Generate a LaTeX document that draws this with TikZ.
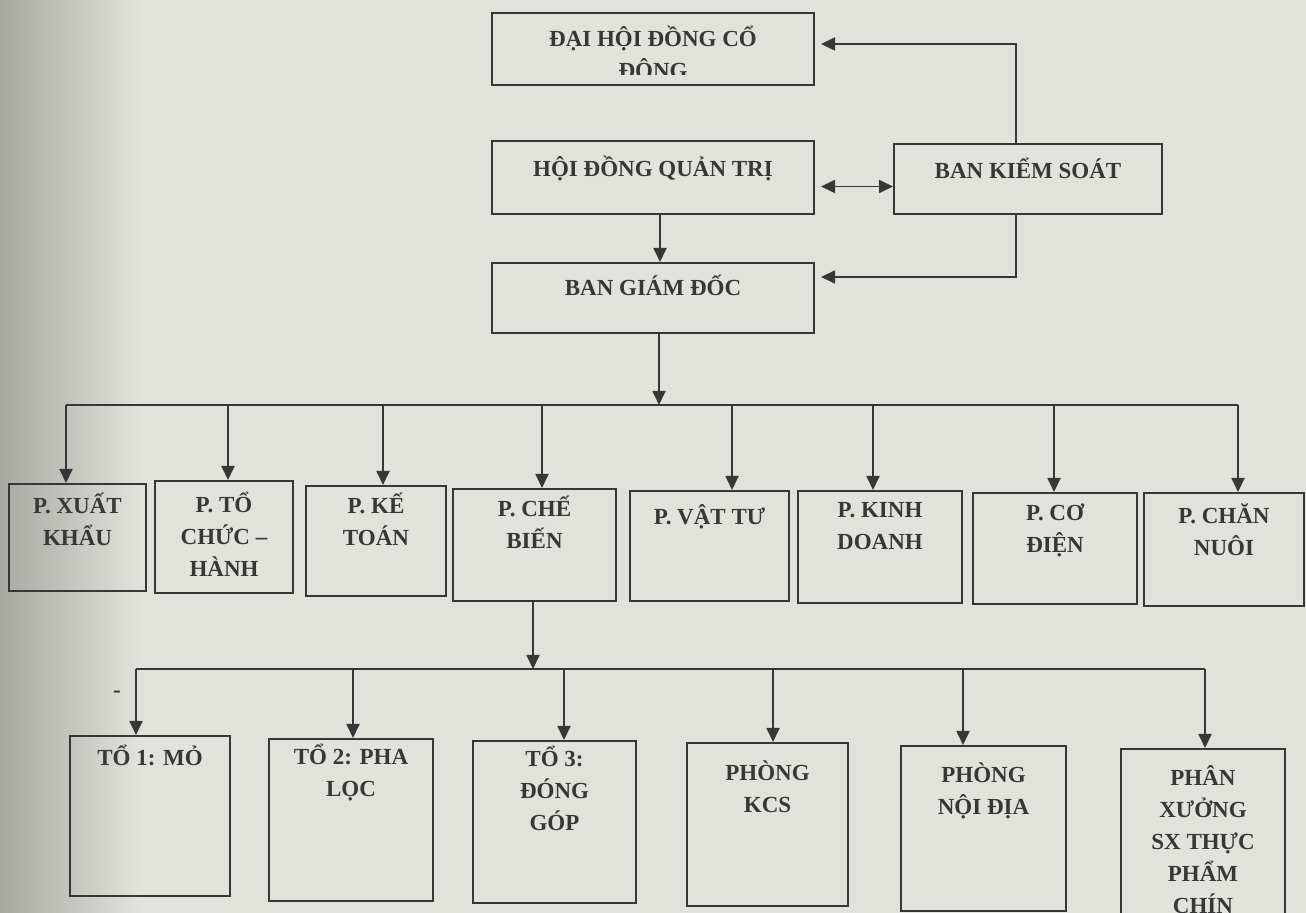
\documentclass[tikz,border=0pt]{standalone}
\usepackage{fontspec}
\setmainfont{Liberation Serif}
\usetikzlibrary{arrows.meta}

\definecolor{giay}{RGB}{226,226,221}
\definecolor{giaytoi}{RGB}{168,168,163}
\definecolor{muc}{RGB}{55,55,55}

\tikzstyle{khung} = [draw=muc, line width=1pt, anchor=north west, inner sep=0pt]
\tikzstyle{chu} = [anchor=north, yshift=11.2pt, align=center, text=muc, inner sep=0pt, font=\bfseries\fontsize{11.5}{16}\selectfont, execute at begin node=\strut]
\tikzstyle{day} = [draw=muc, line width=0.9pt]
\tikzstyle{noi} = [draw=muc, line width=0.9pt, -{Triangle[length=7pt,width=6.5pt]}]
\tikzstyle{hai} = [draw=muc, line width=0.9pt, {Triangle[length=7pt,width=6.5pt]}-{Triangle[length=7pt,width=6.5pt]}]

\begin{document}
\begin{tikzpicture}[x=0.5pt,y=-0.5pt]

    % Nen giay
    \useasboundingbox (0,0) rectangle (1306,913);
    \clip (0,0) rectangle (1306,913);
    \fill[giay] (0,0) rectangle (1306,913);
    \shade[left color=giaytoi, right color=giay] (0,0) rectangle (140,913);

    % Cap lanh dao
    \node[khung, minimum width=161pt, minimum height=36pt] (dh) at (491,12) {};
    \node[khung, minimum width=161pt, minimum height=36.5pt] (hd) at (491,140) {};
    \node[khung, minimum width=134pt, minimum height=35pt] (bk) at (893,143) {};
    \node[khung, minimum width=161pt, minimum height=35pt] (gd) at (491,262) {};

    \begin{scope}
        \clip ([yshift=5.5pt]dh.south west) rectangle (dh.north east);
        \node[chu] (dh-t) at ([yshift=-18pt]dh.north) {ĐẠI HỘI ĐỒNG CỔ\\ĐÔNG};
    \end{scope}
    \node[chu] (hd-t) at ([yshift=-18pt]hd.north) {HỘI ĐỒNG QUẢN TRỊ};
    \node[chu] (bk-t) at ([yshift=-17.5pt]bk.north) {BAN KIỂM SOÁT};
    \node[chu] (gd-t) at ([yshift=-16.5pt]gd.north) {BAN GIÁM ĐỐC};

    % Cac phong
    \node[khung, minimum width=68.5pt, minimum height=53.5pt] (xk) at (8,483) {};
    \node[khung, minimum width=69pt, minimum height=56pt] (tc) at (154,480) {};
    \node[khung, minimum width=70pt, minimum height=55pt] (kt) at (305,485) {};
    \node[khung, minimum width=81.5pt, minimum height=56pt] (cb) at (452,488) {};
    \node[khung, minimum width=79.5pt, minimum height=55pt] (vt) at (629,490) {};
    \node[khung, minimum width=82pt, minimum height=56pt] (kd) at (797,490) {};
    \node[khung, minimum width=82pt, minimum height=55.5pt] (cd) at (972,492) {};
    \node[khung, minimum width=80pt, minimum height=56.5pt] (cn) at (1143,492) {};

    \node[chu] (xk-t) at ([yshift=-16pt]xk.north) {P. XUẤT\\KHẨU};
    \node[chu] (tc-t) at ([yshift=-17pt]tc.north) {P. TỔ\\CHỨC –\\HÀNH};
    \node[chu] (kt-t) at ([yshift=-15pt]kt.north) {P. KẾ\\TOÁN};
    \node[chu] (cb-t) at ([yshift=-15pt]cb.north) {P. CHẾ\\BIẾN};
    \node[chu] (vt-t) at ([yshift=-17pt]vt.north) {P. VẬT TƯ};
    \node[chu] (kd-t) at ([yshift=-17pt]kd.north) {P. KINH\\DOANH};
    \node[chu] (cd-t) at ([yshift=-17pt]cd.north) {P. CƠ\\ĐIỆN};
    \node[chu] (cn-t) at ([yshift=-17pt]cn.north) {P. CHĂN\\NUÔI};

    % Cac to
    \node[khung, minimum width=80pt, minimum height=80pt] (t1) at (69,735) {};
    \node[khung, minimum width=82pt, minimum height=81pt] (t2) at (268,738) {};
    \node[khung, minimum width=81.5pt, minimum height=81pt] (t3) at (472,740) {};
    \node[khung, minimum width=80.5pt, minimum height=81.5pt] (kcs) at (686,742) {};
    \node[khung, minimum width=82.5pt, minimum height=82.5pt] (nd) at (900,745) {};
    \node[khung, minimum width=82pt, minimum height=93.5pt] (px) at (1120,748) {};

    \node[chu] (t1-t) at ([yshift=-15pt]t1.north) {TỔ 1: MỎ};
    \node[chu] (t2-t) at ([yshift=-14pt]t2.north) {TỔ 2: PHA\\LỌC};
    \node[chu] (t3-t) at ([yshift=-14pt]t3.north) {TỔ 3:\\ĐÓNG\\GÓP};
    \node[chu] (kcs-t) at ([yshift=-20.5pt]kcs.north) {PHÒNG\\KCS};
    \node[chu] (nd-t) at ([yshift=-20pt]nd.north) {PHÒNG\\NỘI ĐỊA};
    \node[chu] (px-t) at ([yshift=-20pt]px.north) {PHÂN\\XƯỞNG\\SX THỰC\\PHẨM\\CHÍN};
    \node[chu] (gach) at (117,697) {-};

    % Mui ten lanh dao
    \coordinate (goc) at (1016,0);
    \draw[hai] ([shift={(3pt,-4.5pt)}]hd.east) -- ([yshift=-4.5pt]hd.east -| bk.west);
    \draw[noi] (bk.north -| goc) |- ([shift={(3pt,2.5pt)}]dh.east);
    \draw[noi] (bk.south -| goc) |- ([shift={(3pt,10.5pt)}]gd.east);
    \draw[noi] ([xshift=3.5pt]hd.south) -- ([xshift=3.5pt]gd.north);

    % Thanh ngang 1
    \coordinate (tren) at (659,405);
    \coordinate (b1) at (66,405);
    \coordinate (b2) at (228,405);
    \coordinate (b3) at (383,405);
    \coordinate (b4) at (542,405);
    \coordinate (b5) at (732,405);
    \coordinate (b6) at (873,405);
    \coordinate (b7) at (1054,405);
    \coordinate (b8) at (1238,405);
    \draw[noi] (gd.south -| tren) -- (tren);
    \draw[day] (b1) -- (b8);
    \draw[noi] (b1) -- (b1 |- xk.north);
    \draw[noi] (b2) -- (b2 |- tc.north);
    \draw[noi] (b3) -- (b3 |- kt.north);
    \draw[noi] (b4) -- (b4 |- cb.north);
    \draw[noi] (b5) -- (b5 |- vt.north);
    \draw[noi] (b6) -- (b6 |- kd.north);
    \draw[noi] (b7) -- (b7 |- cd.north);
    \draw[noi] (b8) -- (b8 |- cn.north);

    % Thanh ngang 2
    \coordinate (duoi) at (533,669);
    \coordinate (c1) at (136,669);
    \coordinate (c2) at (353,669);
    \coordinate (c3) at (564,669);
    \coordinate (c4) at (773,669);
    \coordinate (c5) at (963,669);
    \coordinate (c6) at (1205,669);
    \draw[noi] (cb.south -| duoi) -- (duoi);
    \draw[day] (c1) -- (c6);
    \draw[noi] (c1) -- (c1 |- t1.north);
    \draw[noi] (c2) -- (c2 |- t2.north);
    \draw[noi] (c3) -- (c3 |- t3.north);
    \draw[noi] (c4) -- (c4 |- kcs.north);
    \draw[noi] (c5) -- (c5 |- nd.north);
    \draw[noi] (c6) -- (c6 |- px.north);

\end{tikzpicture}
\end{document}
